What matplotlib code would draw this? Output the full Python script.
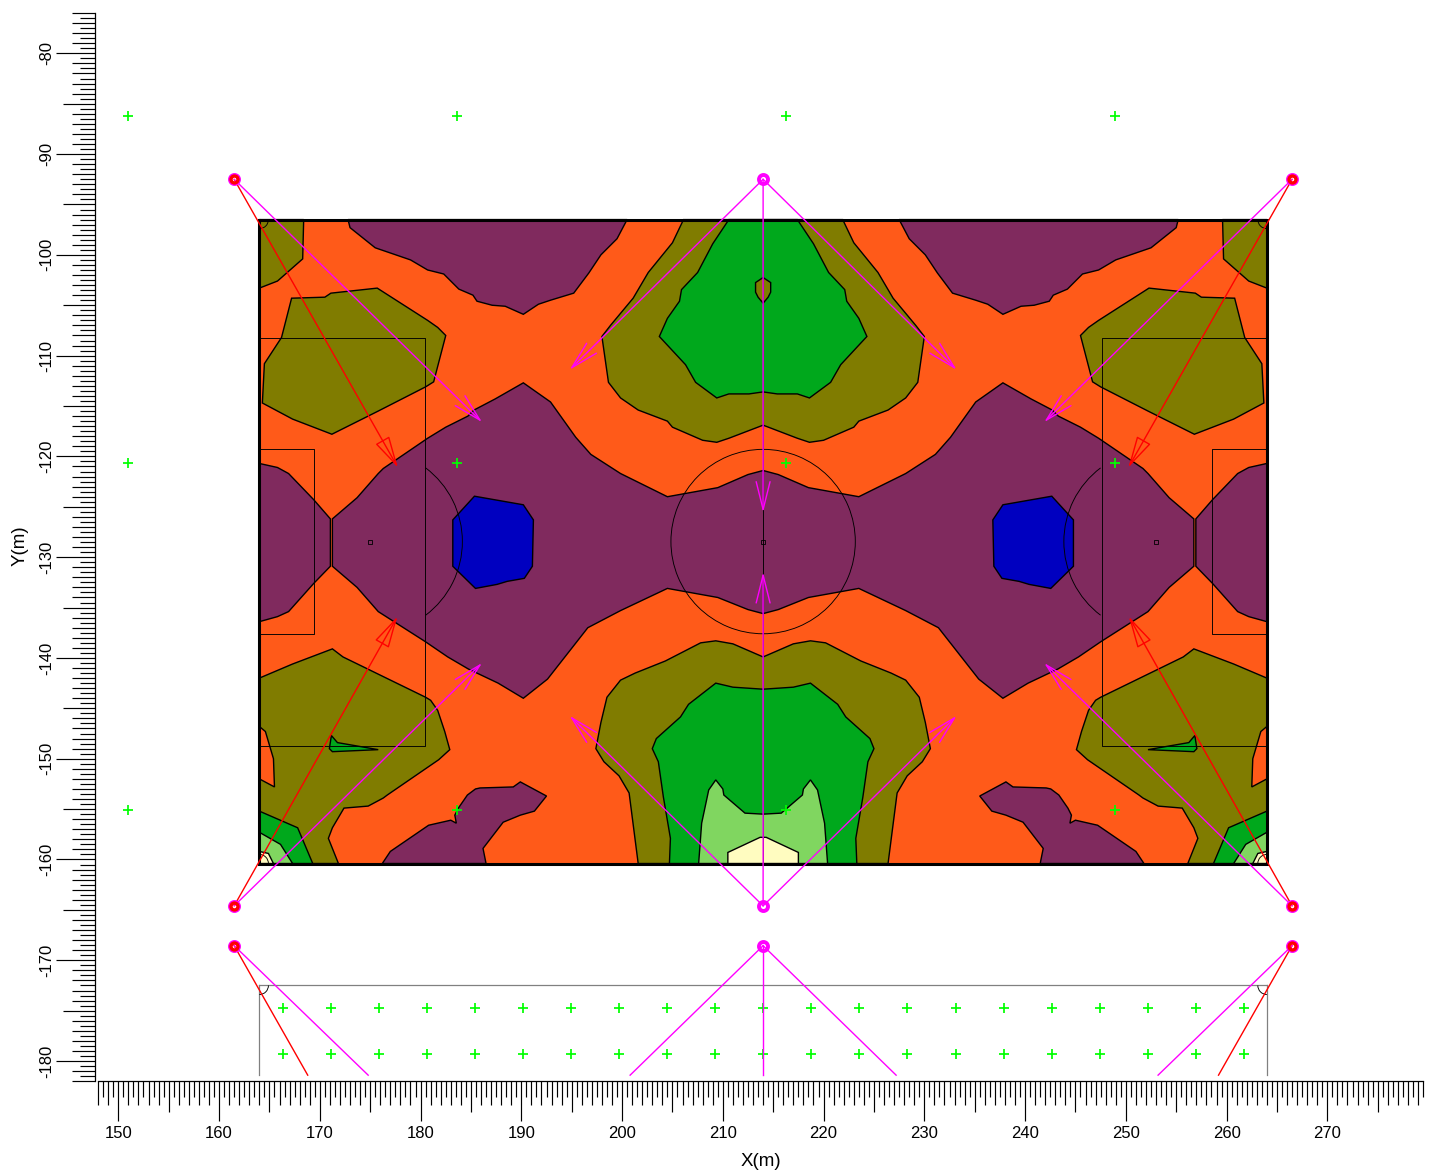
import matplotlib
matplotlib.use("Agg")

import matplotlib.pyplot as plt
from matplotlib.patches import Arc

plt.rcParams["font.family"] = ["Liberation Sans", "DejaVu Sans"]
plt.rcParams["axes.unicode_minus"] = False

ORANGE = "#ff5a19"
OLIVE = "#807c00"
PURPLE = "#802a5e"
BLUE = "#0000c0"
GREEN = "#00a81c"
LIGHT_GREEN = "#80d660"
PALE_YELLOW = "#fffcc0"
LIME = "#00ff00"
RED = "#ff0000"
MAGENTA = "#ff00ff"

MID_X = 214.0
FIELD_LEFT, FIELD_RIGHT = 164.0, 264.0
FIELD_TOP, FIELD_BOTTOM = -96.5, -160.4
MID_Y = -128.45

# contour regions, left half only, the field is mirrored around x=214
top_purple = [(172.8, -96.5), (173.0, -97.3), (175.5, -99.3), (179.0, -100.5), (180.7, -101.5),
              (182.3, -101.9), (183.8, -103.4), (185.2, -104.0), (185.6, -104.6), (187.1, -105.0),
              (188.4, -105.1), (190.2, -105.9), (191.7, -104.9), (192.9, -104.5), (195.2, -103.8),
              (196.7, -101.8), (197.9, -100.0), (199.5, -98.4), (200.5, -96.5)]
corner_olive = [(164.0, -96.5), (168.4, -96.5), (168.3, -100.4), (165.8, -102.6), (164.0, -103.3)]
upper_side_olive = [(167.2, -104.3), (170.5, -104.2), (171.1, -103.8), (175.7, -103.3), (180.7, -106.5),
                    (181.7, -107.2), (182.5, -108.0), (181.3, -112.6), (180.5, -113.1), (175.8, -115.5),
                    (171.2, -117.8), (167.3, -116.3), (164.3, -114.7), (164.5, -110.8), (166.2, -108.2)]
middle_purple = [(214.0, -121.4), (212.5, -121.8), (209.5, -123.1), (204.5, -124.0), (199.85, -121.7),
                 (196.9, -119.8), (195.4, -118.1), (192.9, -114.6), (190.2, -112.7), (187.4, -114.3),
                 (185.3, -115.4), (184.7, -116.0), (182.5, -117.1), (180.7, -118.2), (176.3, -121.2),
                 (175.8, -121.7), (173.7, -124.1), (171.25, -126.2), (171.25, -130.9), (173.7, -133.0),
                 (175.8, -135.4), (180.5, -138.4), (182.7, -139.9), (184.75, -141.1), (187.7, -142.5),
                 (190.2, -144.0), (192.6, -142.1), (196.6, -137.0), (199.85, -135.3), (204.5, -133.1),
                 (209.5, -134.0), (212.5, -135.2), (214.0, -135.6)]
edge_purple = [(164.0, -120.7), (165.8, -121.1), (166.9, -121.7), (169.4, -124.3), (171.05, -126.2),
               (171.05, -130.9), (169.4, -132.6), (166.9, -135.4), (165.8, -135.9), (164.0, -136.4)]
blue_core = [(183.2, -126.3), (185.35, -123.95), (190.2, -124.8), (191.2, -126.3), (191.1, -130.9),
             (190.3, -132.1), (188.6, -132.4), (187.6, -132.7), (185.45, -133.1), (183.2, -130.9)]
top_olive = [(206.1, -96.5), (205.0, -98.8), (202.6, -101.75), (201.1, -104.3), (198.85, -107.0),
             (198.0, -108.1), (198.65, -112.65), (199.85, -114.2), (201.6, -115.4), (204.5, -116.5),
             (205.0, -117.1), (208.0, -118.4), (209.4, -118.6), (210.6, -118.2), (214.0, -116.9)]
top_green = [(210.6, -96.5), (209.0, -98.9), (207.5, -101.75), (205.9, -103.45), (205.7, -104.6),
             (204.5, -106.3), (203.7, -108.1), (206.3, -110.9), (207.3, -112.65), (209.4, -114.2),
             (210.6, -113.8), (212.6, -113.8), (214.0, -113.6)]
top_island = [(214.0, -102.25), (213.25, -102.75), (213.25, -103.7), (213.5, -104.2), (214.0, -104.8)]
bottom_olive = [(214.0, -139.9), (211.0, -138.6), (209.3, -138.3), (207.8, -138.5), (204.3, -140.3),
                (201.3, -141.5), (199.85, -142.2), (198.5, -143.9), (197.9, -146.4), (197.4, -149.0),
                (198.2, -150.3), (199.7, -151.7), (200.7, -153.4), (201.6, -160.4)]
bottom_green = [(214.0, -143.1), (211.0, -142.9), (209.3, -142.5), (206.6, -144.6), (205.8, -145.85),
                (203.4, -148.0), (203.0, -149.0), (203.6, -150.3), (204.1, -153.8), (204.8, -157.9),
                (204.7, -160.4)]
bottom_light = [(214.0, -155.5), (212.2, -155.4), (210.1, -153.6), (210.0, -153.0), (209.3, -152.1),
                (208.6, -153.1), (207.9, -156.4), (207.6, -160.4)]
bottom_yellow = [(213.7, -157.8), (210.5, -159.3), (210.5, -160.4)]
lower_side_olive = [(171.25, -139.1), (172.3, -139.9), (180.5, -143.9), (181.0, -144.2), (181.7, -145.2),
                    (182.4, -147.3), (182.9, -149.1), (181.8, -150.1), (176.7, -153.6), (176.3, -153.9),
                    (174.8, -154.7), (172.4, -154.9), (171.25, -156.85), (170.85, -157.9), (171.85, -160.4),
                    (164.0, -160.4), (164.0, -142.0), (167.3, -140.6)]
side_orange = [(164.0, -146.8), (164.6, -147.3), (165.4, -150.0), (165.5, -152.8), (164.0, -152.0)]
corner_green = [(164.0, -155.2), (167.8, -156.85), (169.3, -160.4), (164.0, -160.4)]
corner_light = [(164.0, -157.3), (166.1, -158.5), (167.3, -160.4), (164.0, -160.4)]
corner_yellow = [(164.0, -159.2), (164.9, -159.4), (165.4, -160.4), (164.0, -160.4)]
sliver_green = [(171.15, -147.7), (171.75, -148.4), (175.8, -149.1), (171.25, -149.3), (170.95, -149.0)]
bottom_purple = [(189.9, -152.3), (189.2, -152.8), (185.9, -152.9), (185.45, -153.0), (184.65, -153.6),
                 (183.75, -154.9), (183.4, -155.6), (183.55, -156.4), (183.0, -156.1), (180.8, -156.6),
                 (177.0, -159.2), (176.2, -160.4), (186.5, -160.4), (186.2, -158.9), (188.2, -156.3),
                 (189.9, -155.6), (191.3, -155.2), (192.5, -153.7)]

# calculation points
grid_x = [151.0, 183.6, 216.3, 248.9]
grid_y = [-86.2, -120.7, -155.1]
row_x = [166.3, 171.1, 175.85, 180.6, 185.4, 190.2, 194.95, 199.7, 204.5, 209.25, 214.0,
         218.8, 223.55, 228.3, 233.1, 237.9, 242.65, 247.4, 252.2, 256.95, 261.75]
row_y = [-174.7, -179.3]

# luminaires and where they aim, left side is mirrored as well
pole_x = [161.5, 214.0, 266.5]
pole_y = [-92.5, -164.6, -168.55]
upper_aims_red = [(177.75, -121.1)]
upper_aims_magenta = [(186.1, -116.6)]
lower_aims_red = [(177.7, -135.9)]
lower_aims_magenta = [(186.1, -140.5)]
center_top_aims = [(194.8, -111.4), (233.2, -111.4), (214.0, -125.55)]
center_bottom_aims = [(194.8, -145.75), (233.2, -145.75), (214.0, -131.5)]
strip_red_end = (168.8, -181.4)
strip_magenta_end = (174.8, -181.4)
strip_center_ends = [(200.8, -181.4), (227.2, -181.4), (214.0, -181.4)]

X_START, X_END = 148.0, 279.5
Y_START, Y_END = -182.0, -76.0
PX = 0.72


def half_steps(start, end):
    count = int(round((end - start) * 2))
    return [start + i * 0.5 for i in range(count + 1)]


def mirrored(points):
    return [(2 * MID_X - x, y) for x, y in points]


def closed(points):
    return points + mirrored(points)[::-1]


def region(ax, points, color, z=2.0):
    xs = [p[0] for p in points]
    ys = [p[1] for p in points]
    ax.fill(xs, ys, facecolor=color, edgecolor="black", linewidth=1.0, zorder=z)


def both_sides(ax, points, color, z=2.0):
    region(ax, points, color, z)
    region(ax, mirrored(points), color, z)


def aim(ax, start, end, color, style):
    ax.annotate(
        "",
        xy=end,
        xytext=start,
        arrowprops=dict(
            arrowstyle=style,
            color=color,
            fc="none",
            lw=1.0,
            shrinkA=0,
            shrinkB=0,
            mutation_scale=1,
        ),
        zorder=6,
    )


def ruler(axis, values, long_len, mid_len, unit_len, half_len):
    minor = [v for v in values if v % 10 != 0]
    axis.set_ticks([v for v in values if v % 10 == 0])
    axis.set_ticks(minor, minor=True)
    for tick, v in zip(axis.get_minor_ticks(), minor):
        if v % 5 == 0:
            size = mid_len
        elif v % 1 == 0:
            size = unit_len
        else:
            size = half_len
        tick.tick1line.set_markersize(size * PX)
    for tick in axis.get_major_ticks():
        tick.tick1line.set_markersize(long_len * PX)


fig = plt.figure(figsize=(14.37, 11.74), dpi=100)
ax = fig.add_axes([98.15 / 1437, 1 - 1081.2 / 1174, 1324.9 / 1437, 1068.2 / 1174])
ax.set_xlim(X_START, X_END)
ax.set_ylim(Y_START, Y_END)

ax.spines["top"].set_visible(False)
ax.spines["right"].set_visible(False)
ax.spines["left"].set_position(("outward", 3 * PX))
ax.spines["left"].set_linewidth(0.9)
ax.spines["bottom"].set_linewidth(0.9)

ax.tick_params(which="both", width=0.85, labelsize=12)
ax.tick_params(axis="x", which="major", length=40 * PX, pad=3.5)
ax.tick_params(axis="y", which="major", length=39 * PX, pad=1.5)
ruler(ax.xaxis, half_steps(X_START, X_END), 40, 31, 24, 16)
ruler(ax.yaxis, half_steps(Y_START, Y_END), 39, 32, 23, 15)
for label in ax.get_yticklabels():
    label.set_rotation(90)
    label.set_va("center")

ax.set_xlabel("X(m)", fontsize=13.5, va="center")
ax.xaxis.set_label_coords(0.5, -80 / 1068.2)
ax.set_ylabel("Y(m)", fontsize=13.5, va="center")
ax.yaxis.set_label_coords(-78 / 1324.9, 0.501)

# field background, then the levels from low to high
region(ax, [(FIELD_LEFT, FIELD_TOP), (FIELD_RIGHT, FIELD_TOP), (FIELD_RIGHT, FIELD_BOTTOM), (FIELD_LEFT, FIELD_BOTTOM)], ORANGE, 1.5)
both_sides(ax, top_purple, PURPLE)
both_sides(ax, corner_olive, OLIVE)
both_sides(ax, upper_side_olive, OLIVE)
both_sides(ax, edge_purple, PURPLE)
region(ax, closed(middle_purple), PURPLE)
both_sides(ax, blue_core, BLUE, 2.1)
region(ax, closed(top_olive), OLIVE)
region(ax, closed(top_green), GREEN, 2.1)
region(ax, closed(top_island), OLIVE, 2.2)
region(ax, closed(bottom_olive), OLIVE)
region(ax, closed(bottom_green), GREEN, 2.1)
region(ax, closed(bottom_light), LIGHT_GREEN, 2.2)
region(ax, closed(bottom_yellow), PALE_YELLOW, 2.3)
both_sides(ax, lower_side_olive, OLIVE)
both_sides(ax, side_orange, ORANGE, 2.1)
both_sides(ax, corner_green, GREEN, 2.1)
both_sides(ax, corner_light, LIGHT_GREEN, 2.2)
both_sides(ax, corner_yellow, PALE_YELLOW, 2.3)
both_sides(ax, sliver_green, GREEN, 2.1)
both_sides(ax, bottom_purple, PURPLE)

# pitch markings
line_style = dict(color="black", linewidth=0.65, zorder=3)
ax.plot([MID_X, MID_X], [FIELD_TOP, FIELD_BOTTOM], **line_style)
for flip in [False, True]:
    box_x = [164.0, 180.4, 180.4, 164.0]
    box_y = [-108.3, -108.3, -148.7, -148.7]
    goal_x = [164.0, 169.4, 169.4, 164.0]
    goal_y = [-119.3, -119.3, -137.6, -137.6]
    spot_x = 175.0
    if flip:
        box_x = [2 * MID_X - x for x in box_x]
        goal_x = [2 * MID_X - x for x in goal_x]
        spot_x = 2 * MID_X - spot_x
    ax.plot(box_x, box_y, **line_style)
    ax.plot(goal_x, goal_y, **line_style)
    ax.plot([spot_x], [MID_Y], marker="s", ms=2.8, mfc="none", mec="black", mew=0.6, zorder=3)
    theta = (127, 233) if flip else (-53, 53)
    ax.add_patch(Arc((spot_x, MID_Y), 18.3, 18.3, theta1=theta[0], theta2=theta[1], color="black", lw=0.65, zorder=3))
ax.add_patch(Arc((MID_X, MID_Y), 18.3, 18.3, color="black", lw=0.65, zorder=3))
ax.plot([MID_X], [MID_Y], marker="s", ms=2.8, mfc="none", mec="black", mew=0.6, zorder=3)

# lower strip, second copy of the field clipped by the window
strip_top = -172.5
strip_end = -181.4
ax.plot([FIELD_LEFT, FIELD_LEFT], [strip_top, strip_end], color="#808080", lw=0.9, zorder=3)
ax.plot([FIELD_RIGHT, FIELD_RIGHT], [strip_top, strip_end], color="#808080", lw=0.9, zorder=3)
ax.plot([FIELD_LEFT, FIELD_RIGHT], [strip_top, strip_top], color="#808080", lw=0.9, zorder=3)

for cx, cy, t1, t2 in [
    (FIELD_LEFT, FIELD_TOP, 270, 360),
    (FIELD_RIGHT, FIELD_TOP, 180, 270),
    (FIELD_LEFT, FIELD_BOTTOM, 0, 90),
    (FIELD_RIGHT, FIELD_BOTTOM, 90, 180),
    (FIELD_LEFT, strip_top, 270, 360),
    (FIELD_RIGHT, strip_top, 180, 270),
]:
    ax.add_patch(Arc((cx, cy), 1.8, 1.8, theta1=t1, theta2=t2, color="black", lw=0.65, zorder=3))

# field border
ax.plot(
    [FIELD_LEFT, FIELD_RIGHT, FIELD_RIGHT, FIELD_LEFT, FIELD_LEFT],
    [FIELD_TOP, FIELD_TOP, FIELD_BOTTOM, FIELD_BOTTOM, FIELD_TOP],
    color="black",
    lw=2.2,
    solid_joinstyle="miter",
    zorder=4,
)

# calculation points
for y in grid_y:
    ax.plot(grid_x, [y] * len(grid_x), ls="none", marker="+", ms=7.8, mew=1.25, color=LIME, zorder=5)
for y in row_y:
    ax.plot(row_x, [y] * len(row_x), ls="none", marker="+", ms=7.8, mew=1.25, color=LIME, zorder=5)

OPEN_HEAD = "->,head_length=20,head_width=5"
CLOSED_HEAD = "-|>,head_length=20,head_width=5"

for side_pole, flip in [(pole_x[0], False), (pole_x[2], True)]:
    fix = (lambda p: (2 * MID_X - p[0], p[1])) if flip else (lambda p: p)
    aim(ax, (side_pole, pole_y[0]), fix(upper_aims_red[0]), RED, CLOSED_HEAD)
    aim(ax, (side_pole, pole_y[0]), fix(upper_aims_magenta[0]), MAGENTA, OPEN_HEAD)
    aim(ax, (side_pole, pole_y[1]), fix(lower_aims_red[0]), RED, CLOSED_HEAD)
    aim(ax, (side_pole, pole_y[1]), fix(lower_aims_magenta[0]), MAGENTA, OPEN_HEAD)
    ax.plot([side_pole, fix(strip_red_end)[0]], [pole_y[2], strip_end], color=RED, lw=1.0, zorder=6)
    ax.plot([side_pole, fix(strip_magenta_end)[0]], [pole_y[2], strip_end], color=MAGENTA, lw=1.0, zorder=6)

for target in center_top_aims:
    aim(ax, (pole_x[1], pole_y[0]), target, MAGENTA, OPEN_HEAD)
for target in center_bottom_aims:
    aim(ax, (pole_x[1], pole_y[1]), target, MAGENTA, OPEN_HEAD)
for target in strip_center_ends:
    ax.plot([pole_x[1], target[0]], [pole_y[2], target[1]], color=MAGENTA, lw=1.0, zorder=6)

for y in pole_y:
    ax.plot(pole_x, [y] * 3, ls="none", marker="o", ms=6.5, mfc="none", mec=MAGENTA, mew=2.8, zorder=7)
    ax.plot([pole_x[0], pole_x[2]], [y, y], ls="none", marker="o", ms=5, mfc="none", mec=RED, mew=2.4, zorder=8)

fig.savefig("out.png", dpi=100)
